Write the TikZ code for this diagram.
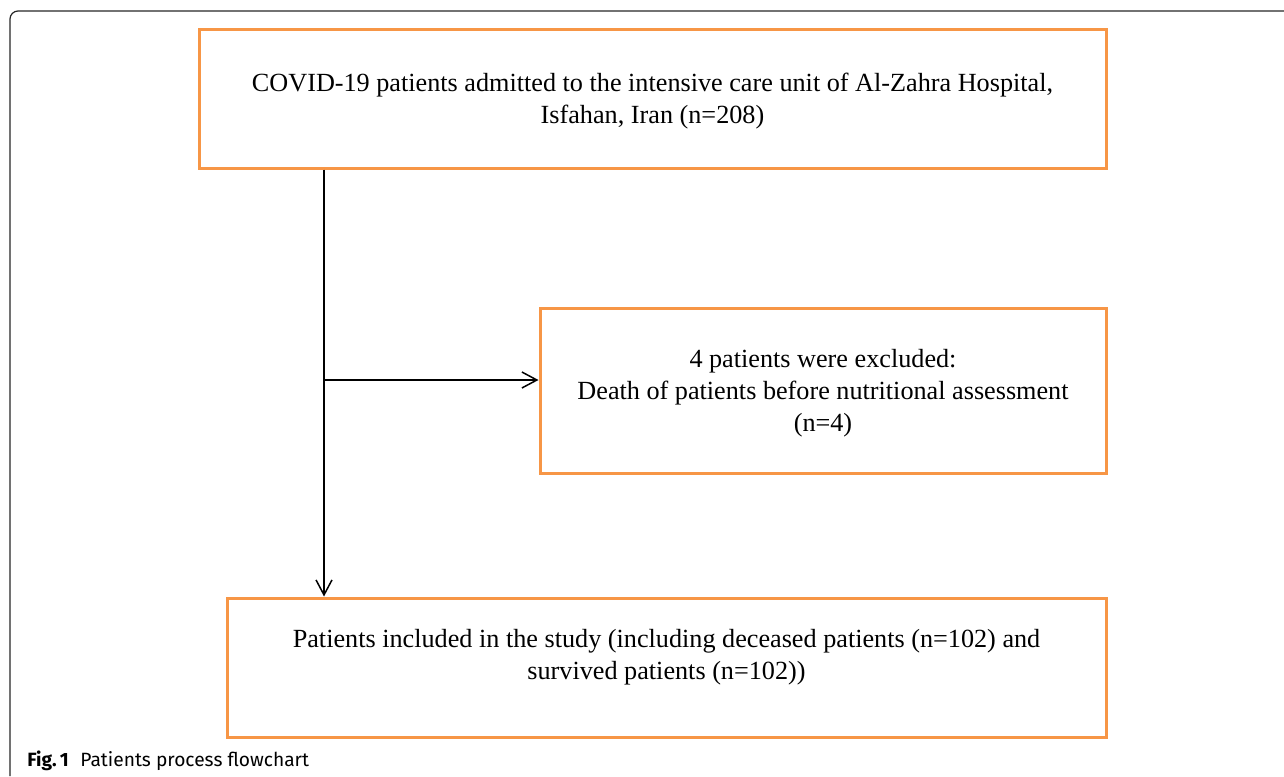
\documentclass[tikz,border=0pt]{standalone}
\usepackage{fontspec}
\setmainfont{Liberation Serif}
\newfontfamily\capfont{Fira Sans}
\usetikzlibrary{arrows.meta}
\definecolor{boxorange}{RGB}{247,150,70}
\tikzset{
	flowbox/.style={draw=boxorange, line width=1.5pt, align=center, inner sep=0pt, font=\fontsize{13.1}{16}\selectfont},
	flowline/.style={draw=black, line width=0.75pt, -{Straight Barb[length=7.5pt, width=8pt]}}
}
\begin{document}
\begin{tikzpicture}[x=0.5pt, y=-0.5pt]
	\useasboundingbox (0,0) rectangle (1284,776);
	% Frame
	\draw [black!85, line width=0.6pt, rounded corners=4pt] (10,776) -- (10,11) -- (1284,11);
	% Boxes
	\node [flowbox, minimum width=453.5pt, minimum height=69.5pt, text depth=0pt] (admit) at (652.5,98.5)
		{COVID-19 patients admitted to the intensive care unit of Al-Zahra Hospital,\\ Isfahan, Iran (n=208)};
	\node [flowbox, minimum width=283pt, minimum height=82.5pt, text depth=0pt] (excl) at (823,390.5)
		{4 patients were excluded:\\ Death of patients before nutritional assessment\\ (n=4)};
	\node [flowbox, minimum width=439.5pt, minimum height=69.5pt, text depth=13pt] (incl) at (666.5,667.5)
		{Patients included in the study (including deceased patients (n=102) and\\ survived patients (n=102))};
	% Arrows
	\coordinate (split) at (324,380);
	\draw [flowline] (admit.south -| split) -- (incl.north -| split);
	\draw [flowline] (split) -- (excl.west |- split);
	% Caption
	\node [anchor=base west, inner sep=0pt, font=\capfont\fontsize{9.6}{12}\selectfont] (cap) at (27,766)
		{\textbf{Fig.\,1}\hspace{0.6em}Patients process flowchart};
\end{tikzpicture}
\end{document}
